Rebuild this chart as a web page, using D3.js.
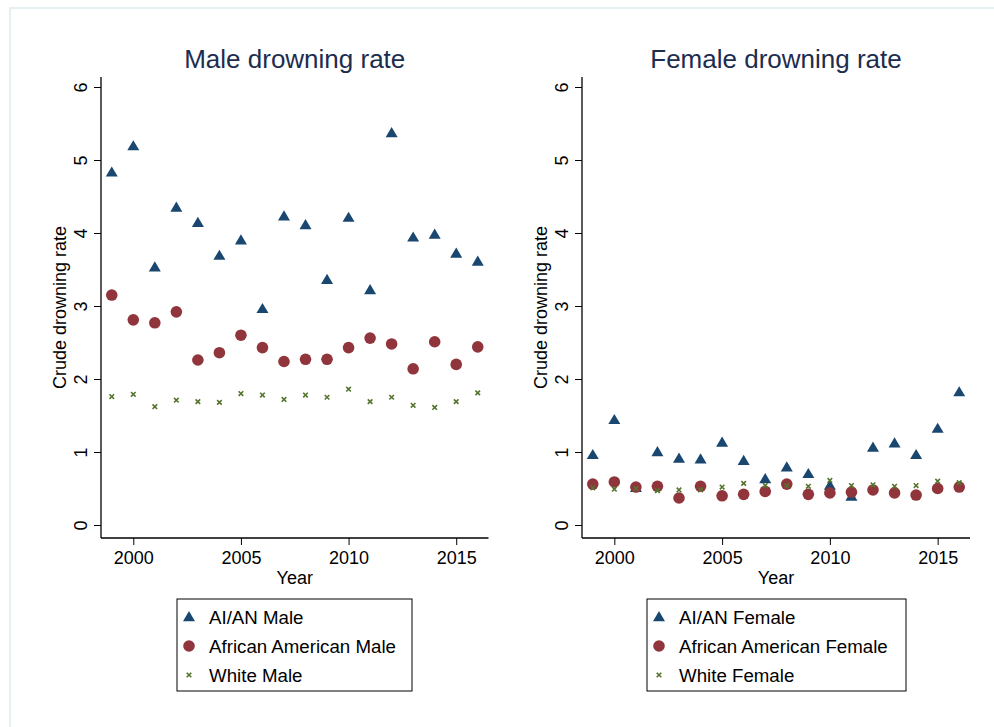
<!DOCTYPE html>
<html>
<head>
<meta charset="utf-8">
<script src="https://cdn.jsdelivr.net/npm/d3@7"></script>
<style>
  html, body { margin: 0; padding: 0; background: #fff; }
  svg { display: block; font-family: "Liberation Sans", Arial, Helvetica, sans-serif; }
</style>
</head>
<body>
<svg id="chart" width="994" height="727"></svg>
<script>
const years = [1999,2000,2001,2002,2003,2004,2005,2006,2007,2008,2009,2010,2011,2012,2013,2014,2015,2016];
const xTicks = [2000, 2005, 2010, 2015];
const yTicks = [0, 1, 2, 3, 4, 5, 6];

const aianMale  = [4.83,5.19,3.53,4.35,4.14,3.69,3.90,2.96,4.23,4.11,3.36,4.21,3.22,5.37,3.94,3.98,3.72,3.61];
const aaMale    = [3.15,2.81,2.77,2.92,2.26,2.36,2.60,2.43,2.24,2.27,2.27,2.43,2.56,2.48,2.14,2.51,2.20,2.44];
const whiteMale = [1.76,1.79,1.62,1.71,1.69,1.68,1.80,1.78,1.72,1.78,1.75,1.86,1.69,1.75,1.64,1.61,1.69,1.81];

const aianFemale  = [0.96,1.44,0.51,1.00,0.91,0.90,1.13,0.88,0.63,0.79,0.70,0.54,0.39,1.06,1.12,0.96,1.32,1.82];
const aaFemale    = [0.56,0.59,0.52,0.53,0.37,0.53,0.40,0.42,0.46,0.56,0.42,0.44,0.45,0.48,0.44,0.41,0.50,0.52];
const whiteFemale = [0.51,0.49,0.50,0.47,0.48,0.48,0.52,0.57,0.54,0.54,0.53,0.61,0.54,0.55,0.53,0.54,0.60,0.58];

const titles = ["Male drowning rate", "Female drowning rate"];
const legendLabels = [
  ["AI/AN Male", "African American Male", "White Male"],
  ["AI/AN Female", "African American Female", "White Female"]
];
const yLabel = "Crude drowning rate";
const xLabel = "Year";

const NAVY = "#1a476f", MAROON = "#90353b", GREEN = "#55752f";
const FONT = "Liberation Sans, Arial, Helvetica, sans-serif";

const svg = d3.select("#chart");

// outer light frame
svg.append("rect").attr("x", 10).attr("y", 8).attr("width", 1000).attr("height", 740)
  .attr("fill", "none").attr("stroke", "#e6eff2").attr("stroke-width", 2);

const panels = [
  { left: 101, right: 488.5, series: [aianMale, aaMale, whiteMale], title: titles[0], legend: legendLabels[0], legX: 177, legW: 235 },
  { left: 582, right: 970, series: [aianFemale, aaFemale, whiteFemale], title: titles[1], legend: legendLabels[1], legX: 647, legW: 259 }
];

const plotTop = 77, plotBottom = 538;
const y = d3.scaleLinear().domain([0, 6]).range([525, 87]);

const triPath = "M0,-6L6,4.2L-6,4.2Z";
const xPath = "M-2.3,-2.3L2.3,2.3M-2.3,2.3L2.3,-2.3";
const R = 5.8;

panels.forEach(p => {
  const g = svg.append("g");
  const x = d3.scaleLinear().domain([1998.5, 2016.5]).range([p.left, p.right]);

  // title
  g.append("text").attr("x", (p.left + p.right) / 2).attr("y", 68)
    .attr("text-anchor", "middle").style("font-size", "26px").attr("fill", "#1c2d4e")
    .text(p.title);

  // y axis
  const ya = g.append("g").attr("transform", `translate(${p.left},0)`)
    .call(d3.axisLeft(y).tickValues(yTicks).tickSize(7).tickSizeOuter(0).tickFormat(d3.format("d")));
  ya.attr("font-size", null).attr("font-family", null);
  ya.select(".domain").remove();
  ya.selectAll(".tick line").attr("stroke", "#000");
  ya.selectAll(".tick text")
    .attr("x", 0).attr("dy", null).attr("y", 0)
    .attr("text-anchor", "middle")
    .attr("transform", "translate(-14,0) rotate(-90)")
    .style("font-size", "18px").style("font-family", FONT).attr("fill", "#000");
  g.append("line").attr("x1", p.left).attr("x2", p.left).attr("y1", plotTop).attr("y2", plotBottom)
    .attr("stroke", "#000").attr("stroke-width", 1.3);

  // x axis
  const xa = g.append("g").attr("transform", `translate(0,${plotBottom})`)
    .call(d3.axisBottom(x).tickValues(xTicks).tickSize(7).tickSizeOuter(0).tickFormat(d3.format("d")));
  xa.attr("font-size", null).attr("font-family", null);
  xa.select(".domain").remove();
  xa.selectAll(".tick line").attr("stroke", "#000");
  xa.selectAll(".tick text").attr("y", 10).attr("dy", "0.9em")
    .style("font-size", "18px").style("font-family", FONT).attr("fill", "#000");
  g.append("line").attr("x1", p.left).attr("x2", p.right).attr("y1", plotBottom).attr("y2", plotBottom)
    .attr("stroke", "#000").attr("stroke-width", 1.3);

  // axis titles
  g.append("text").attr("x", (p.left + p.right) / 2).attr("y", 584)
    .attr("text-anchor", "middle").style("font-size", "18px").text(xLabel);
  g.append("text").attr("transform", `translate(${p.left - 35},${(plotTop + plotBottom) / 2}) rotate(-90)`)
    .attr("text-anchor", "middle").style("font-size", "18px").text(yLabel);

  // markers: triangles, circles, x's
  const data = (arr) => years.map((yr, i) => ({ yr, v: arr[i] }));
  g.append("g").selectAll("path").data(data(p.series[0])).join("path")
    .attr("d", triPath).attr("fill", NAVY)
    .attr("transform", d => `translate(${x(d.yr)},${y(d.v)})`);
  g.append("g").selectAll("circle").data(data(p.series[1])).join("circle")
    .attr("r", R).attr("fill", MAROON)
    .attr("cx", d => x(d.yr)).attr("cy", d => y(d.v));
  g.append("g").selectAll("path").data(data(p.series[2])).join("path")
    .attr("d", xPath).attr("stroke", GREEN).attr("stroke-width", 1.6).attr("fill", "none")
    .attr("transform", d => `translate(${x(d.yr)},${y(d.v)})`);

  // legend
  const lg = g.append("g");
  lg.append("rect").attr("x", p.legX).attr("y", 599).attr("width", p.legW).attr("height", 92)
    .attr("fill", "#fff").attr("stroke", "#000").attr("stroke-width", 1);
  const rows = [617, 646, 675];
  lg.append("path").attr("d", triPath).attr("fill", NAVY)
    .attr("transform", `translate(${p.legX + 12},${rows[0]})`);
  lg.append("circle").attr("r", R).attr("fill", MAROON)
    .attr("cx", p.legX + 12).attr("cy", rows[1]);
  lg.append("path").attr("d", xPath).attr("stroke", GREEN).attr("stroke-width", 1.6).attr("fill", "none")
    .attr("transform", `translate(${p.legX + 12},${rows[2]})`);
  p.legend.forEach((t, i) => {
    lg.append("text").attr("x", p.legX + 32).attr("y", rows[i] + 6.5)
      .style("font-size", "18.7px").attr("fill", "#000").text(t);
  });
});
</script>
</body>
</html>
